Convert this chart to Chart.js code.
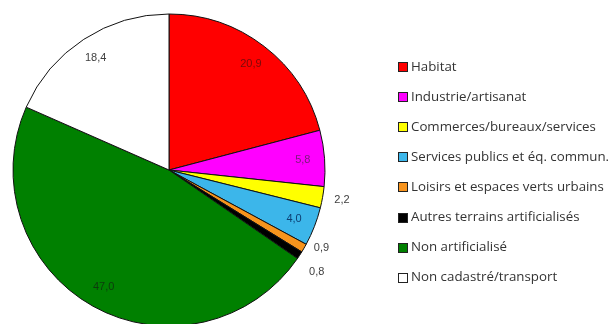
<!DOCTYPE html>
<html>
<head>
<meta charset="utf-8">
<script src="https://cdn.jsdelivr.net/npm/chart.js@4/dist/chart.umd.min.js"></script>
<style>
html,body{margin:0;padding:0;background:#fff;overflow:hidden;}
#wrap{width:613px;height:330px;}
</style>
</head>
<body>
<div id="wrap"><canvas id="c" width="613" height="330"></canvas></div>
<script>
const categories = ["Habitat","Industrie/artisanat","Commerces/bureaux/services","Services publics et éq. commun.","Loisirs et espaces verts urbains","Autres terrains artificialisés","Non artificialisé","Non cadastré/transport"];
const values = [20.9, 5.8, 2.2, 4.0, 0.9, 0.8, 47.0, 18.4];
const valueLabels = ["20,9","5,8","2,2","4,0","0,9","0,8","47,0","18,4"];

const sliceColors = ["#FF0000","#FF00FF","#FFFF00","#3CB6EA","#F7941D","#000000","#008000","#FFFFFF"];
const labelColors = ["#7A0A0A","#7A1A7A","#404040","#0D3F73","#404040","#404040","#0D3A0D","#404040"];
const outsideIdx = [2,4,5];

const dataLabels = {
  id:'dataLabels',
  afterDatasetsDraw(chart){
    const ctx = chart.ctx;
    const meta = chart.getDatasetMeta(0);
    ctx.save();
    ctx.font = '11px "Liberation Sans", Arial, sans-serif';
    ctx.textAlign = 'center';
    ctx.textBaseline = 'middle';
    const items = [];
    let prevOut = null;
    meta.data.forEach((arc, i) => {
      const p = arc.getProps(['x','y','startAngle','endAngle','outerRadius'], true);
      const mid = (p.startAngle + p.endAngle) / 2;
      const outside = outsideIdx.includes(i);
      const r = outside ? p.outerRadius * 1.1 : p.outerRadius * 0.86;
      const item = {x: p.x + Math.cos(mid) * r, y: p.y + Math.sin(mid) * r, i};
      if (outside) {
        item.x += 4;
        if (prevOut && item.y - prevOut.y < 24) {
          const m = (prevOut.y + item.y) / 2;
          prevOut.y = m - 12; item.y = m + 12;
        }
        prevOut = item;
      }
      items.push(item);
    });
    items.forEach(it => {
      ctx.fillStyle = labelColors[it.i];
      ctx.fillText(valueLabels[it.i], it.x, it.y);
    });
    ctx.restore();
  }
};

const customLegend = {
  id:'customLegend',
  afterDraw(chart){
    const ctx = chart.ctx;
    ctx.save();
    ctx.font = '13.3px "Open Sans", "Liberation Sans", sans-serif';
    ctx.textBaseline = 'middle';
    ctx.textAlign = 'left';
    const x0 = 398, y0 = 67, step = 30.1, bs = 10;
    categories.forEach((c, i) => {
      const y = y0 + i * step;
      ctx.fillStyle = sliceColors[i];
      ctx.fillRect(x0, Math.round(y - bs/2), bs, bs);
      ctx.strokeStyle = '#222';
      ctx.lineWidth = 1;
      ctx.strokeRect(x0 + 0.5, Math.round(y - bs/2) + 0.5, bs - 1, bs - 1);
      ctx.fillStyle = '#333333';
      ctx.fillText(c, x0 + 13, y);
    });
    ctx.restore();
  }
};

new Chart(document.getElementById('c'), {
  type: 'pie',
  data: {
    labels: categories,
    datasets: [{
      data: values,
      backgroundColor: sliceColors,
      borderColor: '#111',
      borderWidth: 1,
      radius: 156
    }]
  },
  options: {
    responsive: false,
    animation: false,
    layout: { padding: { left: 13, right: 288, top: 14, bottom: 4 } },
    plugins: { legend: { display: false }, tooltip: { enabled: false } }
  },
  plugins: [dataLabels, customLegend]
});
</script>
</body>
</html>
